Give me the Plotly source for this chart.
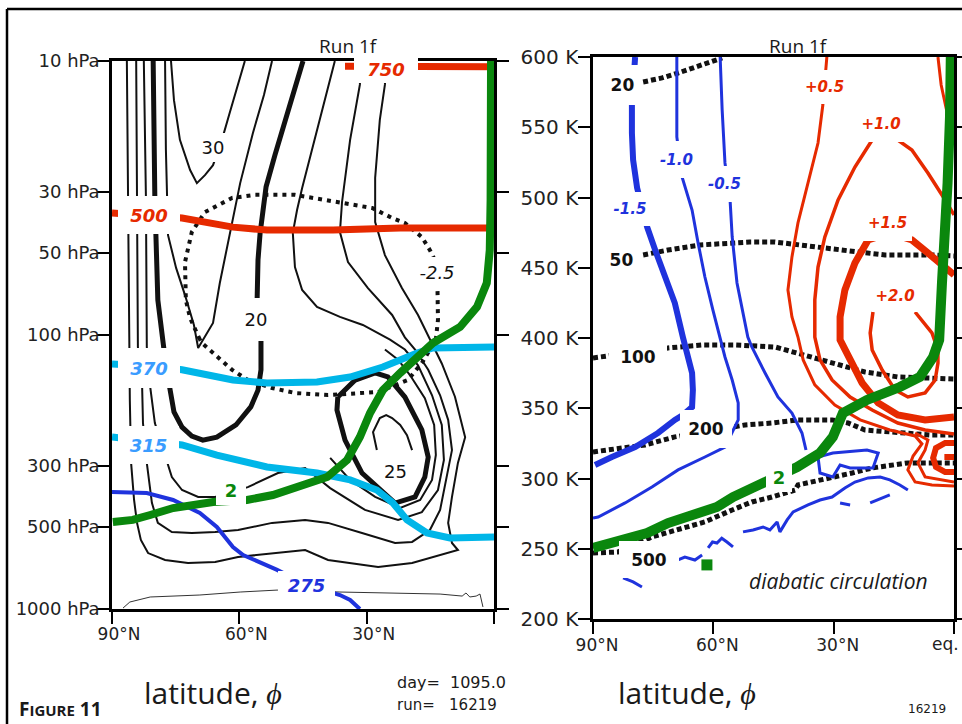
import math
import plotly.graph_objects as go

W, H = 962, 724

# ================= LEFT PANEL : latitude (deg N) vs pressure (hPa) =================
# zonal-wind contours (thin)
u1_lat = [86.5, 86.2, 86.0, 85.8, 85.5, 84.8, 84.1, 83.2, 81.5, 77.5, 72.1, 65.7, 60.3, 52.3, 44.5, 39.1, 27.3, 19.3,
          11.5, 8.5, 9.9, 10.8, 9.9, 8.5, 6.8, 9.2, 12.3, 15.1, 17.9, 21.7, 25.7, 28.0, 28.0, 26.9, 25.7, 25.4]
u1_p = [10, 32.1, 110.6, 173, 293, 400, 485, 560, 625, 662, 679, 674, 646, 625, 609, 662, 703, 679,
        625, 609, 574, 485, 390, 293, 236, 168, 127, 104, 84.5, 67.4, 51.1, 38.7, 26.7, 16.4, 12.2, 10]
u2_lat = [84.3, 84.1, 83.9, 82.9, 82.7, 81.8, 80.6, 79.2, 75.9, 71.2, 65.7, 60.3, 52.3, 44.5, 39.1, 31.1, 23.3, 19.3,
          15.1, 12.7, 11.3, 9.9, 10.8, 12.7, 15.5, 18.6, 21.0, 24.0, 29.7, 34.4, 36.3, 35.8, 33.9, 31.6, 31.3]
u2_p = [10, 32.1, 110.6, 154.8, 209.6, 293, 410, 485, 524, 528, 524, 515, 485, 473, 485, 528, 574, 569,
        515, 435, 338, 263, 204, 166, 134, 113, 102, 84.5, 67.4, 54.2, 42.1, 32.7, 19.4, 12.2, 10]
u3_lat = [82.5, 82.0, 81.8, 81.0, 79.9, 77.0, 75.9, 73.5, 69.7, 65.7, 58.0, 50.9, 44.5, 38.6, 30.4, 22.6, 17.0, 13.2,
          11.8, 12.3, 14.6, 17.9, 21.0, 24.5, 30.9, 36.3, 41.7, 45.2, 46.9, 47.4, 46.4, 45.2, 42.2, 39.8, 37.5]
u3_p = [10, 32.1, 110.6, 154.8, 209.6, 293, 330, 368, 390, 390, 359, 319, 306, 362, 435, 473, 443, 368,
        286, 213, 166, 129, 113, 104, 91.9, 85.9, 79.0, 68.5, 56.5, 42.4, 35.0, 29.1, 19.1, 13.9, 10]
u4_lat = [38.6, 33.9, 28.0, 22.1, 17.4, 14.6, 13.7, 14.1, 16.3, 19.8, 22.6, 25.7]
u4_p = [281, 338, 390, 428, 400, 338, 274, 213, 170, 140, 123, 113]
u25_lat = [27.6, 28.5, 26.9, 25.4, 24.0, 22.1, 20.5, 19.3]
u25_p = [263, 226, 201, 196, 201, 213, 232, 263]
uv_lat = [77.5, 77.3, 76.8, 74.9, 72.8, 70.7, 69.7, 68.6, 66.2, 64.6, 62.2, 59.8, 56.8, 54.2, 52.3]
uv_p = [10, 21.1, 43.2, 56.9, 71.5, 91.9, 111.5, 104, 90.4, 64.6, 42.4, 27.9, 18.3, 13.3, 10]
u30_lat = [76.1, 75.4, 74.0, 71.6, 70.0, 68.1, 66.2, 64.1, 62.4, 60.8, 58.7]
u30_p = [10, 13.9, 19.4, 25.0, 27.9, 26.1, 24.0, 19.4, 15.7, 12.8, 10]
# zonal-wind contours (thick)
ujet_lat = [36.8, 37.0, 35.1, 31.1, 23.3, 18.6, 16.3, 15.5, 17.0, 21.0, 25.0, 28.0, 32.7, 36.8]
ujet_p = [168.4, 188, 242, 319, 410.5, 390, 330, 279, 222, 168.4, 142.3, 137.6, 146, 168.4]
u20_lat = [80.3, 79.9, 79.2, 78.0, 77.3, 76.3, 75.4, 73.5, 71.2, 68.6, 65.3, 60.8, 57.3, 55.6, 54.9, 54.9, 55.6,
           55.8, 55.6, 55.1, 53.7, 51.6, 49.7, 47.4, 45.0]
u20_p = [10, 32.1, 74.5, 110.6, 128.7, 159, 191, 217, 234, 242, 236, 213, 183, 159, 134, 104, 88.1,
         73.3, 53.2, 42.4, 28.8, 22.0, 17.4, 13.3, 10]
# surface line
sfc_lat = [87.4, 85.8, 81.0, 69.3, 59.8, 51.1, 36.3, 22.1, 12.7, 7.5, 6.6, 5.7, 4.2, 3.3, 2.6]
sfc_p = [992, 943, 904, 889, 867, 853, 867, 874, 882, 897, 874, 904, 897, 882, 983]
# -2.5 contour (dotted)
neg_lat = [69.3, 71.6, 72.6, 72.8, 71.2, 68.1, 61.7, 56.3, 46.9, 36.8, 28.7, 24.0, 21.0, 17.0, 15.1, 13.4, 13.2,
           13.2, 13.7, 17.0, 20.3, 27.3, 39.1, 46.9, 52.3, 58.0, 61.7, 66.4, 68.8, 69.3]
neg_p = [104, 86.7, 74.5, 54.2, 42.1, 35.6, 31.6, 30.8, 30.8, 32.7, 34.4, 37.4, 39.0, 43.9, 49.0, 55.5, 69.7,
         88.1, 104, 126.6, 146, 161.5, 165.6, 162.8, 156.1, 146, 134, 116.3, 107, 104]
# isentropes
th500_lat = [90, 81.0, 73.5, 61.5, 53.5, 37.9, 22.1, 0]
th500_p = [35.9, 36.5, 37.4, 40.4, 41.4, 41.4, 40.7, 40.7]
th750_lat = [35.1, 17.4, 0]
th750_p = [10.45, 10.45, 10.5]
th370_lat = [90, 81.0, 73.5, 69.3, 61.5, 53.5, 41.7, 33.9, 26.2, 18.1, 14.4, 0]
th370_p = [127.6, 129.8, 134, 137.6, 146, 149.7, 148.5, 142.3, 130.9, 116.3, 111.5, 110.6]
th315_lat = [90, 81.0, 73.5, 65.3, 53.5, 41.7, 33.9, 27.6, 23.8, 20.5, 15.8, 10.4, 0]
th315_p = [235.7, 243.8, 252, 274.2, 303.2, 318.9, 338, 368, 410.5, 473, 528, 550.7, 546.1]
th275_lat = [90, 81.8, 75.6, 69.3, 65.3, 61.5, 59.1, 51.1, 44.1, 36.3, 33.9, 31.6]
th275_p = [374.1, 377.3, 400, 446.3, 501.9, 593.9, 635.3, 720, 817.4, 889.2, 927, 1000]
# 2-PVU tropopause
pv2_lat = [89.8, 85.1, 81.0, 75.6, 66.2, 58.2, 52.1, 45.7, 39.3, 34.6, 31.6, 29.2, 26.2, 22.1, 18.1, 14.4,
           8.0, 4.0, 1.7, 1.0, 0.8, 0.7, 0.7]
pv2_p = [481.3, 473, 453.9, 428.1, 407, 400, 383.8, 358.7, 329.8, 286, 235.7, 192.6, 159, 137.6, 121.3, 107,
         93.5, 79.0, 64.6, 49.0, 32.1, 18.3, 10]

# ================= RIGHT PANEL : latitude (deg N) vs potential temperature (K) =================
m15_lat = [79.5, 80.0, 80.3, 80.3, 80.0, 79.0, 77.8, 76.5, 74.5, 72.0, 69.6, 67.6, 66.3, 65.3, 65.1, 65.3, 67.6,
           69.6, 73.8, 79.5, 85.3, 89.5]
m15_th = [600, 583.6, 565.8, 545.9, 526.7, 506.8, 492.5, 479.0, 462.6, 443.4, 424.9, 400.7, 386.5, 375.1, 363.0,
          350.9, 345.2, 341.7, 332.4, 322.4, 315.3, 309.6]
m10_lat = [69.1, 69.1, 69.1, 67.8, 65.3, 63.8, 62.1, 60.1, 58.3, 57.1, 55.3, 53.8, 53.8, 55.3, 57.1, 62.1, 68.8,
           75.3, 82.0, 88.7, 90]
m10_th = [600, 581.5, 543.1, 514.6, 491.1, 467.6, 443.4, 419.9, 400.7, 386.5, 370.1, 353.8, 341.7, 332.4, 322.4,
          315.3, 306.1, 294.0, 282.6, 272.6, 271.9]
m05_lat = [58.3, 57.8, 57.1, 55.8, 55.3, 54.1, 51.4, 50.4, 47.1, 43.9, 40.4, 37.9, 36.9]
m05_th = [600, 562.3, 524.6, 496.8, 471.9, 439.2, 400.7, 393.6, 375.1, 358.0, 346.6, 332.4, 320.3]
mlow_lat = [33.9, 33.4, 30.2, 28.4, 25.9, 20.2, 18.9, 21.7, 30.2, 33.9, None,
            52.6, 50.1, 47.6, 45.9, 44.1, 43.4, 41.6, 40.1, 36.4, 33.4, 30.4, 27.2, 24.7, 21.4, 18.4, 16.0, 13.5, 11.5, None,
            61.3, 60.2, 59.1, 57.9, 56.6, 55.1, None,
            68.8, 67.1, 64.6, 62.8, None,
            82.5, 80.0, 77.8, None,
            28.4, 25.9, None, 20.9, 16.0]
mlow_th = [315.3, 303.9, 301.1, 309.6, 307.5, 307.5, 318.2, 320.3, 318.2, 315.3, None,
           262.0, 263.4, 265.5, 263.4, 269.1, 262.0, 270.5, 276.2, 281.2, 284.7, 286.8, 293.3, 297.5, 300.4, 301.1, 299.0, 295.4, 291.8, None,
           250.6, 254.8, 254.1, 257.5, 254.8, 251.3, None,
           242.0, 244.1, 242.0, 245.6, None,
           229.2, 226.4, 222.8, None,
           282.6, 281.2, None, 282.6, 288.3]
p05_lat = [31.7, 31.9, 32.7, 33.9, 36.4, 38.9, 40.4, 41.4, 40.4, 38.9, 37.6, 34.7, 29.7, 23.4, 16.0, 9.7, 8.0,
           10.2, 11.5, 9.7, 5.5, 0, None, 4.0, 3.2, 1.7, 0.5]
p05_th = [600, 592.9, 565.8, 538.8, 510.3, 481.9, 457.7, 434.2, 415.0, 400.7, 384.4, 366.6, 352.3, 341.7, 334.5,
          330.3, 324.6, 316.0, 306.1, 297.5, 295.4, 294.7, None, 600, 580.1, 560.2, 541.0]
p10_lat = [0, 7.2, 14.0, 20.4, 25.9, 30.4, 33.4, 34.7, 34.7, 33.9, 32.2, 28.9, 24.7, 20.4, 17.2, 14.0, 10.5, 6.5, 2.2, 0]
p10_th = [331.7, 334.5, 339.5, 348.8, 358.0, 370.1, 384.4, 400.7, 427.1, 450.5, 471.9, 498.2, 521.7, 540.9, 544.4,
          540.9, 533.8, 517.4, 498.2, 487.6]
p15_lat = [0, 7.2, 14.0, 18.9, 22.9, 26.4, 28.4, 28.4, 27.2, 24.7, 21.4, 16.0, 10.5, 6.5, 2.2, 0]
p15_th = [343.8, 341.7, 345.2, 353.8, 368.0, 386.5, 398.6, 415.0, 434.2, 453.4, 469.8, 474.8, 469.8, 460.5, 450.5, 444.9]
p20_lat = [9.7, 5.5, 4.0, 4.0, 4.7, 7.2, 11.5, 14.7, 17.9, 20.4, 20.9, 20.2]
p20_th = [418.5, 403.6, 391.5, 382.2, 370.1, 360.9, 358.0, 363.0, 377.2, 391.5, 403.6, 418.5]
plow_lat = [9.7, 6.5, 7.2, 9.0, 7.2, 3.0, 0]
plow_th = [332.4, 327.4, 320.3, 311.1, 301.1, 299.0, 297.5]
pg_lat = [0, 2.2, 4.5, 5.2, 4.5, 2.2, 0, None, 2.4, 0]
pg_th = [325.3, 325.3, 321.7, 314.6, 308.2, 304.6, 304.6, None, 315.3, 315.3]
# isobars (dotted)
i20_lat = [77.5, 72.8, 68.8, 64.6, 57.8]
i20_th = [582.2, 585.1, 588.6, 592.9, 599.3]
i50_lat = [77.5, 71.3, 63.3, 56.3, 50.9, 44.6, 37.1, 30.2, 23.9, 17.2, 5.5, 0]
i50_th = [459.1, 462.6, 466.2, 467.6, 468.3, 468.3, 466.2, 463.4, 461.2, 459.1, 459.1, 458.4]
i100_lat = [90, 71.3, 62.8, 54.6, 44.6, 38.9, 30.4, 22.2, 14.0, 5.5, 0]
i100_th = [385.8, 392.9, 395.0, 395.0, 393.6, 389.3, 382.2, 375.8, 372.3, 371.5, 370.8]
i200_lat = [90, 83.8, 77.0, 69.6, 52.1, 45.4, 38.9, 30.4, 26.4, 22.2, 14.0, 5.5, 0]
i200_th = [318.9, 321.7, 323.9, 329.6, 338.1, 339.5, 341.7, 341.7, 339.5, 334.5, 332.4, 330.9, 330.9]
i500_lat = [90, 83.8, 75.3, 68.8, 62.1, 55.3, 50.4, 45.4, 39.6, 38.9, 30.4, 25.4, 20.4, 15.5, 11.5, 5.5, 0]
i500_th = [247.0, 247.7, 258.4, 263.4, 269.1, 277.6, 283.3, 286.8, 291.8, 295.4, 300.4, 303.9, 307.5, 309.6, 311.1, 311.1, 311.1]
# 2-PVU
q2_lat = [90, 84.0, 79.5, 76.5, 71.3, 67.6, 62.8, 59.1, 55.1, 47.6, 39.1, 33.4, 30.2, 27.7, 21.7, 13.5, 8.5, 5.2,
          3.7, 3.0, 2.2, 1.6, 1.0, 0.8]
q2_th = [250.6, 254.8, 258.4, 261.2, 268.3, 271.9, 276.2, 279.7, 286.8, 296.8, 308.2, 318.2, 329.6, 346.6, 355.9,
         365.1, 372.3, 386.5, 398.6, 439.2, 474.7, 510.3, 557.3, 600]
q2_dot_lat = [61.6]
q2_dot_th = [238.5]

BLACK = '#111111'
RED = '#e62a00'
CYAN = '#00b6e8'
CYAN_TXT = '#3a9cff'
BLUE = '#1f33dd'
GREEN = '#0a870d'

fig = go.Figure()


def line(lat, y, color, width, axes=1, dash=None):
    fig.add_trace(go.Scatter(
        x=lat, y=y, mode='lines', xaxis='x' if axes == 1 else 'x2', yaxis='y' if axes == 1 else 'y2',
        line=dict(color=color, width=width, dash=dash), hoverinfo='skip', showlegend=False,
        connectgaps=False))


# left panel
for la, pp in [(u1_lat, u1_p), (u2_lat, u2_p), (u3_lat, u3_p), (u4_lat, u4_p), (u25_lat, u25_p),
               (uv_lat, uv_p), (u30_lat, u30_p)]:
    line(la, pp, BLACK, 2)
line(ujet_lat, ujet_p, BLACK, 5)
line(u20_lat, u20_p, BLACK, 5)
line(sfc_lat, sfc_p, '#333333', 1)
line(neg_lat, neg_p, BLACK, 4, dash='4px,5px')
line(th500_lat, th500_p, RED, 7)
line(th750_lat, th750_p, RED, 7)
line(th370_lat, th370_p, CYAN, 7)
line(th315_lat, th315_p, CYAN, 7)
line(th275_lat, th275_p, BLUE, 4)
line(pv2_lat, pv2_p, GREEN, 8)

# right panel
for la, tt in [(i20_lat, i20_th), (i50_lat, i50_th), (i100_lat, i100_th), (i200_lat, i200_th), (i500_lat, i500_th)]:
    line(la, tt, BLACK, 5, axes=2, dash='5px,3px')
line(m15_lat, m15_th, BLUE, 6, axes=2)
line(m10_lat, m10_th, BLUE, 3, axes=2)
line(m05_lat, m05_th, BLUE, 3, axes=2)
line(mlow_lat, mlow_th, BLUE, 3, axes=2)
line(p05_lat, p05_th, RED, 3, axes=2)
line(p10_lat, p10_th, RED, 3.5, axes=2)
line(p15_lat, p15_th, RED, 7, axes=2)
line(p20_lat, p20_th, RED, 3.5, axes=2)
line(plow_lat, plow_th, RED, 3, axes=2)
line(pg_lat, pg_th, RED, 6, axes=2)
line(q2_lat, q2_th, GREEN, 10, axes=2)
fig.add_trace(go.Scatter(x=q2_dot_lat, y=q2_dot_th, mode='markers', xaxis='x2', yaxis='y2',
                         marker=dict(symbol='square', size=11, color=GREEN), hoverinfo='skip', showlegend=False))

# ---------------- contour labels (white boxes break the lines) ----------------
left_labels = [  # text, lat, p, box w, box h, colour, size, style
    ('30', 66.2, 20.6, 28, 29, BLACK, 18, ''),
    ('20', 56.1, 88.1, 26, 43, BLACK, 18, ''),
    ('25', 23.3, 316, 0, 0, BLACK, 18, ''),
    ('-2.5', 13.4, 58.9, 40, 30, BLACK, 18, 'i'),
    ('500', 81.3, 36.5, 62, 38, RED, 18, 'bi'),
    ('750', 25.4, 10.7, 64, 28, RED, 18, 'bi'),
    ('370', 81.3, 132, 62, 40, CYAN_TXT, 18, 'bi'),
    ('315', 81.3, 252, 61, 38, CYAN_TXT, 18, 'bi'),
    ('275', 44.1, 824, 57, 29, BLUE, 18, 'bi'),
    ('2', 62.0, 368, 30, 29, GREEN, 18, 'b'),
]
right_labels = [  # text, lat, theta, box w, box h, colour, size, style
    ('20', 82.6, 580.1, 39, 40, BLACK, 17, 'b'),
    ('50', 83.0, 455.5, 39, 30, BLACK, 17, 'b'),
    ('100', 78.8, 386.5, 58, 29, BLACK, 17, 'b'),
    ('200', 61.8, 335.2, 52, 38, BLACK, 17, 'b'),
    ('500', 76.0, 242.0, 60, 37, BLACK, 17, 'b'),
    ('-1.5', 80.8, 491.8, 42, 34, BLUE, 15, 'bi'),
    ('-1.0', 69.1, 527.4, 41, 37, BLUE, 15, 'bi'),
    ('-0.5', 57.1, 509.6, 39, 36, BLUE, 15, 'bi'),
    ('+0.5', 32.2, 578.6, 43, 34, RED, 15, 'bi'),
    ('+1.0', 18.2, 552.3, 48, 36, RED, 15, 'bi'),
    ('+1.5', 16.5, 481.9, 49, 37, RED, 15, 'bi'),
    ('+2.0', 14.7, 429.9, 46, 32, RED, 15, 'bi'),
    ('2', 43.6, 301.1, 26, 30, GREEN, 18, 'b'),
]


def styled(t, st):
    if 'b' in st:
        t = '<b>' + t + '</b>'
    if 'i' in st:
        t = '<i>' + t + '</i>'
    return t


for t, la, pp, w, h, c, s, st in left_labels:
    kw = dict(bgcolor='white', width=w, height=h) if w else {}
    fig.add_annotation(x=la, y=math.log10(pp), xref='x', yref='y', text=styled(t, st), showarrow=False,
                       font=dict(family='DejaVu Sans', size=s, color=c), borderpad=0, borderwidth=0, **kw)
for t, la, tt, w, h, c, s, st in right_labels:
    fig.add_annotation(x=la, y=tt, xref='x2', yref='y2', text=styled(t, st), showarrow=False,
                       font=dict(family='DejaVu Sans', size=s, color=c), borderpad=0, borderwidth=0,
                       bgcolor='white', width=w, height=h)
fig.add_annotation(x=28.9, y=227.1, xref='x2', yref='y2', text='<i>diabatic circulation</i>', showarrow=False,
                   font=dict(family='Open Sans', size=21, color='#1a1a1a'))

# ---------------- page texts ----------------
page_texts = [  # text, x px, y px, anchor, family, size
    ('Run 1f', 348, 46, 'center', 'Open Sans', 19),
    ('Run 1f', 798, 46, 'center', 'Open Sans', 19),
    ('latitude, <i>ϕ</i>', 213, 692, 'center', 'Open Sans', 30),
    ('latitude, <i>ϕ</i>', 687, 692, 'center', 'Open Sans', 30),
    ('day=  1095.0', 395, 682, 'left', 'DejaVu Sans', 16),
    ('run=   16219', 395, 705, 'left', 'DejaVu Sans', 15),
    ('16219', 927, 709, 'center', 'DejaVu Sans', 12),
    ('<b>F<span style="font-size:15px">IGURE</span> 11</b>', 17, 709, 'left', 'Open Sans', 19),
]
for t, px, py, anc, fam, s in page_texts:
    fig.add_annotation(x=px / W, y=1 - py / H, xref='paper', yref='paper', text=t, showarrow=False,
                       xanchor=anc, yanchor='middle', font=dict(family=fam, size=s, color='#1a1a1a'))
# equator tick label of the right panel (kept inside the page)
fig.add_annotation(x=961 / W, y=1 - 644 / H, xref='paper', yref='paper', text='eq.', showarrow=False,
                   xanchor='right', yanchor='middle', font=dict(family='DejaVu Sans', size=17, color='#222222'))

# outer frame
fig.add_shape(type='line', xref='paper', yref='paper', x0=7 / W, x1=1, y0=1 - 9 / H, y1=1 - 9 / H,
              line=dict(color='black', width=2.5))
fig.add_shape(type='line', xref='paper', yref='paper', x0=7 / W, x1=7 / W, y0=0, y1=1 - 9 / H,
              line=dict(color='black', width=2.5))

axis_common = dict(showline=True, linecolor='black', linewidth=2.5, ticks='outside', ticklen=12, tickwidth=2,
                   tickcolor='black', showgrid=False, zeroline=False, automargin=False, ticklabeloverflow='allow')

lat_ticks = [90, 60, 30, 0]
p_ticks = [10, 30, 50, 100, 300, 500, 1000]
th_ticks = [200, 250, 300, 350, 400, 450, 500, 550, 600]


def tf(s):
    return dict(family='DejaVu Sans', size=s, color='#222222')


fig.update_layout(
    width=W, height=H, margin=dict(l=0, r=0, t=0, b=0, pad=0, autoexpand=False), autosize=False,
    paper_bgcolor='white', plot_bgcolor='white', showlegend=False,
    xaxis=dict(domain=[112 / W, 494 / W], range=[90, 0], anchor='y', mirror=True, tickfont=tf(17),
               ticklabelstandoff=-4, ticklabelshift=-7,
               tickvals=lat_ticks, ticktext=['90°N', '60°N', '30°N', ''], **axis_common),
    yaxis=dict(domain=[1 - 609 / H, 1 - 61 / H], type='log', range=[3, 1], anchor='x', mirror='ticks',
               tickfont=tf(18), ticklabelstandoff=-6,
               tickvals=p_ticks, ticktext=[f'{v} hPa' for v in p_ticks], **axis_common),
    xaxis2=dict(domain=[593 / W, 954 / W], range=[90, 0], anchor='y2', mirror=True, tickfont=tf(17),
                ticklabelstandoff=-3, ticklabelshift=-4,
                tickvals=lat_ticks, ticktext=['90°N', '60°N', '30°N', ''], **axis_common),
    yaxis2=dict(domain=[1 - 619 / H, 1 - 57 / H], range=[200, 600], anchor='x2', mirror='ticks',
                tickfont=tf(20), ticklabelstandoff=-4,
                tickvals=th_ticks, ticktext=[f'{v} K' for v in th_ticks], **axis_common),
)

fig.write_html('out.html')
